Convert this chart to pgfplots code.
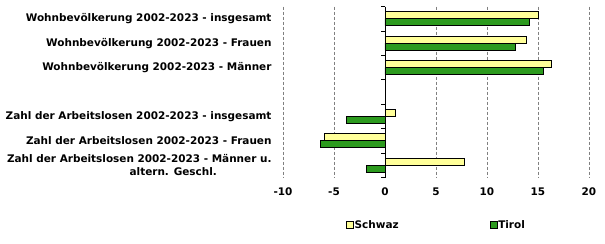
\documentclass[border=0pt]{standalone}
\usepackage{pgfplots}
\pgfplotsset{compat=1.18}
\usepackage{fontspec}
\setmainfont{DejaVu Sans}
\definecolor{schwaz}{RGB}{255,255,153}
\definecolor{tirol}{RGB}{44,154,30}
\definecolor{gridc}{RGB}{128,128,128}
\begin{document}
\begin{tikzpicture}
\path[use as bounding box] (-283bp,-66.5bp) rectangle (322bp,177.5bp);
\begin{axis}[
  at={(0,0)}, anchor=south west,
  scale only axis, width=306bp, height=171bp,
  xmin=-10, xmax=20, ymin=-0.5, ymax=6.5,
  y dir=reverse,
  xbar, bar width=7bp,
  xtick={-10,-5,0,5,10,15,20},
  ytick={0,1,2,3,4,5,6},
  yticklabels={Wohnbevölkerung 2002-2023 - insgesamt, Wohnbevölkerung 2002-2023 - Frauen, Wohnbevölkerung 2002-2023 - Männer, {}, Zahl der Arbeitslosen 2002-2023 - insgesamt, Zahl der Arbeitslosen 2002-2023 - Frauen, {Zahl der Arbeitslosen 2002-2023 - Männer u.\\\hspace*{68bp}altern. Geschl.}},
  y tick label style={font=\fontsize{10.5}{13.5}\selectfont\bfseries, align=center, xshift=-8bp},
  x tick label style={font=\fontsize{10.5}{12}\selectfont\bfseries, yshift=-7bp},
  /pgf/number format/assume math mode=true,
  major tick length=0pt,
  axis line style={draw=none},
  xmajorgrids, grid style={gridc, dash pattern=on 3bp off 2bp, line width=0.7bp},
  legend style={at={(0.5,-0.278)}, anchor=center, draw=none, fill=none,
    legend columns=2, font=\fontsize{10.5}{12}\selectfont\bfseries,
    /tikz/every even column/.append style={column sep=90bp},
    nodes={inner sep=1bp}},
  legend image code/.code={\draw[#1, line width=0.6bp] (0bp,-3.5bp) rectangle (7bp,3.5bp);},
]
\addplot[fill=schwaz, draw=black, line width=0.8bp, bar shift=3.5bp] coordinates {
 (15.0,0) (13.85,1) (16.3,2) (1.0,4) (-5.9,5) (7.75,6)};
\addplot[fill=tirol, draw=black, line width=0.8bp, bar shift=-3.5bp] coordinates {
 (14.15,0) (12.8,1) (15.5,2) (-3.8,4) (-6.3,5) (-1.8,6)};
\legend{Schwaz, Tirol}
\draw[black, line width=0.8bp] (axis cs:0,-0.5) -- (axis cs:0,6.5);
\pgfplotsinvokeforeach{-0.5,0.5,1.5,2.5,3.5,4.5,5.5,6.5}{
  \draw[black, line width=0.8bp] (axis cs:0,#1) -- ++(-3.5bp,0pt);
}
\end{axis}
\end{tikzpicture}
\end{document}
